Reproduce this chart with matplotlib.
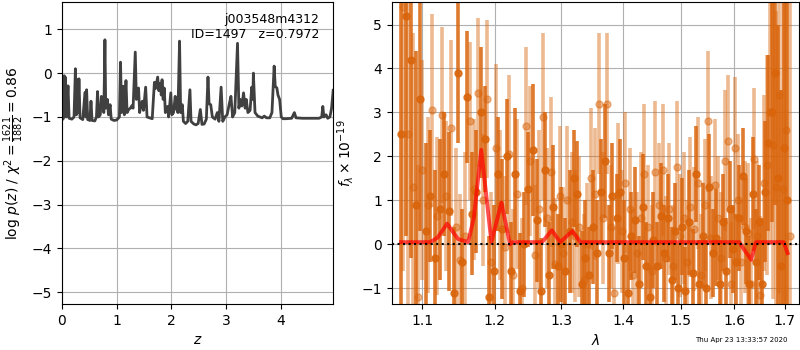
import matplotlib
matplotlib.use('Agg')
import matplotlib.pyplot as plt
from matplotlib.ticker import FixedLocator, FixedFormatter, NullLocator, NullFormatter

# --- p(z) curve ---
z_grid = [0.00, 0.02, 0.04, 0.05, 0.06, 0.08, 0.11, 0.13, 0.18, 0.22, 0.245, 0.265, 0.28, 0.295,
          0.31, 0.33, 0.38, 0.42, 0.435, 0.45, 0.47, 0.51, 0.53, 0.55, 0.60, 0.63, 0.65, 0.67,
          0.70, 0.72, 0.745, 0.765, 0.785, 0.80, 0.83, 0.85, 0.88, 0.90, 0.95, 1.00, 1.05, 1.07,
          1.09, 1.12, 1.14, 1.17, 1.19, 1.22, 1.25, 1.28, 1.30, 1.34, 1.36, 1.40, 1.42, 1.45,
          1.47, 1.49, 1.53, 1.555, 1.60, 1.65, 1.69, 1.71, 1.75, 1.77, 1.80, 1.815, 1.83, 1.85,
          1.87, 1.89, 1.93, 1.95, 1.99, 2.01, 2.04, 2.07, 2.09, 2.12, 2.15, 2.17, 2.20, 2.22,
          2.26, 2.30, 2.34, 2.36, 2.41, 2.45, 2.49, 2.53, 2.56, 2.60, 2.64, 2.67, 2.69, 2.72,
          2.75, 2.80, 2.84, 2.87, 2.91, 2.94, 2.98, 3.02, 3.06, 3.09, 3.12, 3.16, 3.21, 3.235,
          3.26, 3.29, 3.32, 3.35, 3.37, 3.40, 3.44, 3.47, 3.49, 3.50, 3.53, 3.58, 3.62, 3.66,
          3.70, 3.74, 3.80, 3.84, 3.88, 3.90, 3.93, 3.95, 3.98, 4.01, 4.04, 4.10, 4.20, 4.25,
          4.28, 4.40, 4.55, 4.70, 4.75, 4.77, 4.79, 4.83, 4.86, 4.90, 4.93, 4.96]
log_pz = [-1.02, -1.05, -0.06, -1.00, -0.09, -1.00, -0.29, -1.03, -1.05, -1.00, 0.10, -0.95, -0.15, -0.90,
          -0.13, -1.02, -1.06, -0.44, -1.00, -0.38, -1.06, -1.08, -0.64, -1.08, -1.09, -1.00, -0.42, -1.00,
          -0.95, -0.53, -0.70, -0.90, 0.76, -0.80, -0.60, -0.95, -0.72, -1.05, -1.08, -1.07, -1.00, 0.25,
          -0.90, -0.30, -0.95, -0.17, -0.90, -0.83, -0.80, -0.74, -0.80, 0.48, -0.60, -0.34, -0.90, -0.70,
          -0.64, -0.85, -0.32, -1.00, -1.02, -1.04, -0.21, -0.35, -0.09, -0.40, -0.23, -0.50, -0.15, -0.60,
          -0.34, -0.90, -0.76, -1.00, -0.45, -0.95, -0.90, -0.53, -0.80, -0.90, 0.73, -0.90, -0.72, -1.10,
          -1.15, -1.10, -0.38, -1.10, -1.16, -1.18, -1.15, -0.83, -1.17, -1.16, -1.05, -0.09, -0.70, -0.72,
          -1.00, -1.05, -0.90, -1.10, -0.32, -1.10, -1.00, -0.95, -0.70, -0.53, -1.00, -0.90, 0.68, -0.80,
          -0.60, -0.75, -0.45, -0.80, -0.60, -0.90, -0.85, -0.32, -0.60, 0.00, -0.90, -0.98, -1.00, -1.02,
          -0.98, -1.02, -1.02, -0.90, 0.16, -0.30, -0.34, -0.50, -0.60, -1.00, -1.04, -1.04, -1.03, -0.90,
          -1.02, -1.03, -1.03, -1.03, -1.00, -0.76, -1.00, -0.95, -1.03, -1.00, -0.80, -0.39]

# --- spectrum, first orientation (darker) ---
wave_a = [1.072, 1.078, 1.085, 1.091, 1.097, 1.104, 1.110, 1.116, 1.123, 1.129, 1.135, 1.142,
          1.148, 1.154, 1.161, 1.167, 1.173, 1.180, 1.186, 1.192, 1.199, 1.205, 1.211, 1.218,
          1.224, 1.230, 1.237, 1.243, 1.249, 1.256, 1.262, 1.268, 1.275, 1.281, 1.287, 1.294,
          1.300, 1.306, 1.313, 1.319, 1.325, 1.332, 1.338, 1.344, 1.351, 1.357, 1.363, 1.370,
          1.376, 1.382, 1.389, 1.395, 1.401, 1.408, 1.414, 1.420, 1.427, 1.433, 1.439, 1.446,
          1.452, 1.458, 1.465, 1.471, 1.477, 1.484, 1.490, 1.496, 1.503, 1.509, 1.515, 1.522,
          1.528, 1.534, 1.541, 1.547, 1.553, 1.560, 1.566, 1.572, 1.579, 1.585, 1.591, 1.598,
          1.604, 1.610, 1.617, 1.623, 1.629, 1.636, 1.642, 1.648, 1.655, 1.661, 1.667, 1.674,
          1.680, 1.686, 1.693, 1.699, 1.705]
flux_a = [2.5, 5.2, 4.2, 0.9, 3.3, 0.3, 1.1, -0.3, 0.8, 1.6, 0.75, -1.1,
          3.9, -0.4, 3.35, 0.7, 1.2, 3.0, 2.4, -1.2, -0.6, 1.6, 0.35, 2.0,
          -0.6, 1.6, -1.05, 0.0, 1.25, 2.15, 0.55, -1.05, 1.7, -0.7, 0.85, -0.5,
          0.0, -0.6, 0.3, 1.5, 1.15, -0.9, -0.3, -0.7, 0.4, -0.2, 1.2, 1.9,
          -0.2, 1.1, 0.6, 1.2, -0.3, -1.1, 0.2, 0.55, -0.9, 0.85, -0.5, -1.2,
          0.1, -0.5, 0.65, -0.2, 0.6, -0.8, 0.3, -1.0, 0.4, -1.05, 0.5, -0.65,
          1.6, -0.9, 0.2, -1.0, 1.3, -0.2, 0.15, -0.9, 0.5, -0.6, 0.8, -0.1,
          -0.4, 0.6, 1.55, 0.3, -0.9, 1.15, -0.4, 0.5, -0.9, 1.2, 2.3, 3.0,
          3.9, 1.5, -0.5, 2.2, 1.0]
err_a = [4.0, 5.0, 4.5, 3.5, 3.0, 2.0, 1.5, 2.0, 1.6, 1.4, 1.8, 1.5,
         1.6, 1.2, 1.5, 1.4, 1.4, 1.5, 1.2, 1.4, 1.5, 1.3, 1.6, 1.3,
         1.1, 1.5, 1.3, 1.2, 1.3, 1.5, 1.4, 1.2, 1.3, 1.2, 1.4, 1.2,
         1.3, 1.2, 1.4, 1.1, 1.2, 1.2, 1.3, 1.1, 1.3, 1.2, 1.2, 1.3,
         1.1, 1.2, 1.0, 1.2, 1.3, 1.1, 1.0, 1.2, 1.1, 1.2, 1.0, 1.2,
         1.1, 1.0, 1.2, 1.1, 1.0, 1.2, 1.1, 1.0, 1.1, 1.0, 1.2, 1.0,
         1.1, 1.0, 1.2, 1.1, 1.2, 1.0, 1.1, 1.0, 1.1, 1.2, 1.1, 1.0,
         1.1, 1.2, 1.1, 1.2, 1.1, 1.3, 1.2, 1.3, 1.5, 1.6, 2.0, 2.5,
         3.0, 3.5, 4.0, 5.0, 6.0]

# --- spectrum, second orientation (lighter) ---
wave_b = [1.075, 1.081, 1.088, 1.094, 1.100, 1.107, 1.113, 1.119, 1.126, 1.132, 1.138, 1.145,
          1.151, 1.157, 1.164, 1.170, 1.176, 1.183, 1.189, 1.195, 1.202, 1.208, 1.214, 1.221,
          1.227, 1.233, 1.240, 1.246, 1.252, 1.259, 1.265, 1.271, 1.278, 1.284, 1.290, 1.297,
          1.303, 1.309, 1.316, 1.322, 1.328, 1.335, 1.341, 1.347, 1.354, 1.360, 1.366, 1.373,
          1.379, 1.385, 1.392, 1.398, 1.404, 1.411, 1.417, 1.423, 1.430, 1.436, 1.442, 1.449,
          1.455, 1.461, 1.468, 1.474, 1.480, 1.487, 1.493, 1.499, 1.506, 1.512, 1.518, 1.525,
          1.531, 1.537, 1.544, 1.550, 1.556, 1.563, 1.569, 1.575, 1.582, 1.588, 1.594, 1.601,
          1.607, 1.613, 1.620, 1.626, 1.632, 1.639, 1.645, 1.651, 1.658, 1.664, 1.670, 1.677,
          1.683, 1.689, 1.696, 1.702, 1.712]
flux_b = [5.4, 2.5, 1.3, -1.2, 1.7, 0.9, 3.05, 0.65, 2.95, 1.1, 2.65, 0.4,
          -0.35, 0.2, 2.8, 1.25, 3.45, 1.0, 3.3, -0.4, 2.2, 0.9, -0.05, 2.05,
          -0.7, 1.15, -1.0, 2.7, 1.9, -0.25, 0.8, 2.9, 0.6, 1.65, -0.45, 1.1,
          -0.2, 1.0, 0.5, 0.2, 0.4, -0.8, 0.0, 1.5, 1.15, 3.2, 0.6, 3.2,
          0.4, -1.1, 1.15, 0.3, 1.4, 0.8, -0.7, -0.2, 0.6, 1.6, 0.4, -0.6,
          1.65, 0.9, 1.7, -0.3, 0.8, -0.5, 1.75, 0.2, 0.6, -0.4, 0.85, 0.35,
          1.4, -0.7, 0.9, 2.8, 0.15, 1.35, 0.6, -0.3, 1.9, 2.35, -0.9, 2.2,
          1.0, -0.4, 0.4, 0.25, -0.9, 1.95, 0.2, -1.15, 1.4, 1.8, 3.0, 2.25,
          1.3, 3.4, 1.25, 2.6, 0.2]
err_b = [6.0, 4.5, 3.5, 3.0, 2.5, 2.0, 2.2, 1.8, 2.0, 1.7, 2.0, 1.8,
         1.5, 1.9, 1.8, 1.6, 1.7, 1.5, 1.8, 1.6, 1.9, 1.7, 1.6, 1.8,
         1.5, 1.7, 1.6, 1.8, 1.7, 1.6, 1.8, 1.9, 1.6, 1.7, 1.5, 1.6,
         1.5, 1.7, 1.6, 1.5, 1.6, 1.5, 1.4, 1.6, 1.5, 1.6, 1.5, 1.6,
         1.4, 1.5, 1.6, 1.4, 1.6, 1.4, 1.5, 1.4, 1.5, 1.6, 1.4, 1.5,
         1.6, 1.4, 1.5, 1.4, 1.5, 1.4, 1.5, 1.4, 1.5, 1.4, 1.6, 1.4,
         1.5, 1.4, 1.5, 1.6, 1.4, 1.5, 1.4, 1.5, 1.6, 1.5, 1.4, 1.6,
         1.5, 1.4, 1.5, 1.6, 1.5, 1.6, 1.7, 1.8, 2.0, 2.5, 3.0, 3.5,
         4.0, 4.5, 5.0, 5.5, 6.0]

# --- best-fit model line ---
model_wave = [1.072, 1.110, 1.120, 1.133, 1.148, 1.162, 1.170, 1.1805, 1.195, 1.2095, 1.222,
              1.226, 1.270, 1.285, 1.298, 1.317, 1.330, 1.610, 1.618, 1.633, 1.642, 1.698, 1.706]
model_flux = [0.05, 0.05, 0.15, 0.47, 0.12, 0.05, 0.60, 2.15, 0.05, 0.95, 0.00,
              0.05, 0.05, 0.32, 0.05, 0.30, 0.05, 0.05, -0.10, -0.35, 0.05, 0.05, -0.20]

orange = '#d9640a'

fig = plt.figure(figsize=(8, 3.5), dpi=100)
ax1 = fig.add_axes([0.0775, 0.131, 0.339, 0.863])
ax2 = fig.add_axes([0.4896, 0.131, 0.5094, 0.863])

# p(z)
ax1.plot(z_grid, log_pz, color='#404040', lw=2)
ax1.set_xlim(0, 4.96)
ax1.set_ylim(-5.27, 1.62)
ax1.set_xlabel('$z$')
ax1.set_ylabel(r'$\log\,p(z)$ / $\chi^2=\frac{1621}{1882}=0.86$')
ax1.grid(True)
ax1.text(0.95, 0.965, 'j003548m4312\nID=1497   z=0.7972', transform=ax1.transAxes,
         ha='right', va='top', multialignment='right', fontsize=9)

# spectrum
ax2.errorbar(wave_b, flux_b, yerr=err_b, marker='o', ms=5, linestyle='none',
             color=orange, alpha=0.45, elinewidth=2.6, capsize=0)
ax2.errorbar(wave_a, flux_a, yerr=err_a, marker='o', ms=5, linestyle='none',
             color=orange, alpha=0.85, elinewidth=2.6, capsize=0)
ax2.plot(model_wave, model_flux, color='r', alpha=0.7, lw=2.8, zorder=5)
ax2.axhline(0, color='k', ls=':', lw=1.5, zorder=6)

ax2.set_xscale('log')
ax2.set_xlim(1.06, 1.73)
ax2.set_ylim(-1.36, 5.51)
xt = [1.1, 1.2, 1.3, 1.4, 1.5, 1.6, 1.7]
ax2.xaxis.set_major_locator(FixedLocator(xt))
ax2.xaxis.set_major_formatter(FixedFormatter(['%.1f' % v for v in xt]))
ax2.xaxis.set_minor_locator(NullLocator())
ax2.xaxis.set_minor_formatter(NullFormatter())
ax2.set_xlabel(r'$\lambda$')
ax2.set_ylabel(r'$f_\lambda\times10^{-19}$')
ax2.grid(True)

fig.text(0.985, 0.028, 'Thu Apr 23 13:33:57 2020', ha='right', va='center', fontsize=5)

fig.savefig('out.png', dpi=100)
